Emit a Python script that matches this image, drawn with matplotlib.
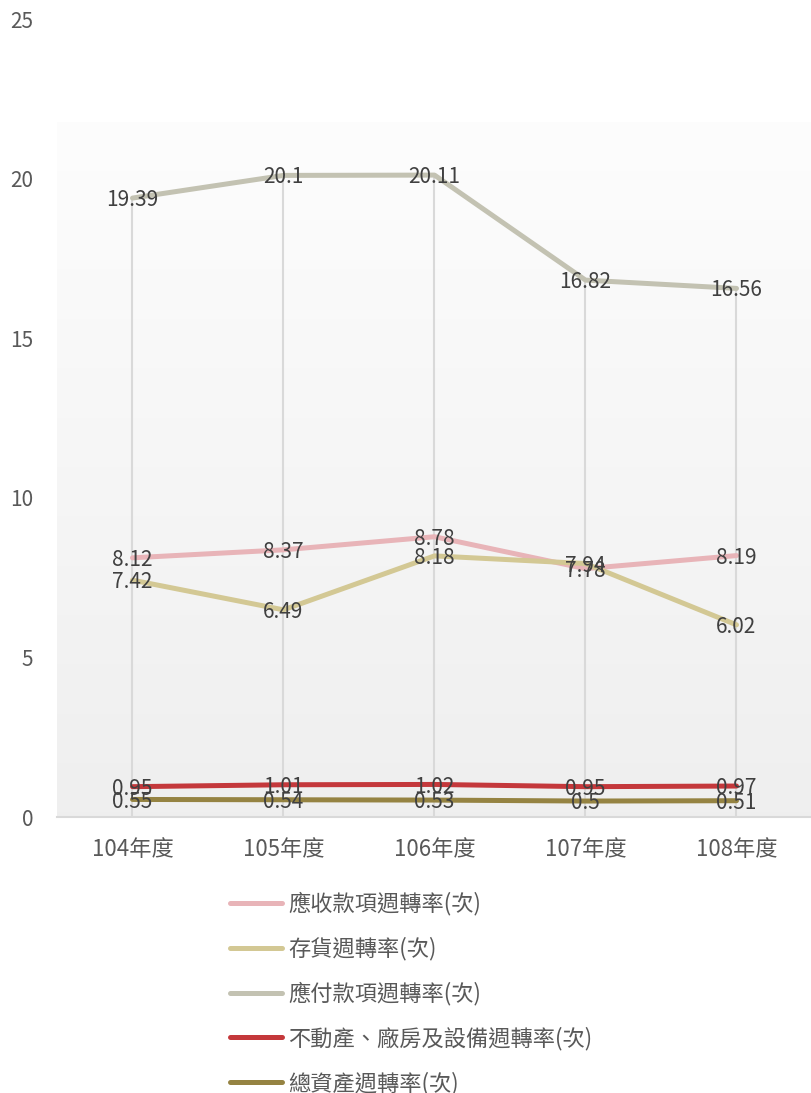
import numpy as np
import matplotlib
matplotlib.use("Agg")
import matplotlib.pyplot as plt

plt.rcParams["font.family"] = ["Noto Sans CJK TC", "DejaVu Sans"]

YEARS = ["104年度", "105年度", "106年度", "107年度", "108年度"]
SERIES_NAMES = [
    "應收款項週轉率(次)",
    "存貨週轉率(次)",
    "應付款項週轉率(次)",
    "不動產、廠房及設備週轉率(次)",
    "總資產週轉率(次)",
]
RECEIVABLE = [8.12, 8.37, 8.78, 7.78, 8.19]
INVENTORY = [7.42, 6.49, 8.18, 7.94, 6.02]
PAYABLE = [19.39, 20.1, 20.11, 16.82, 16.56]
PPE = [0.95, 1.01, 1.02, 0.95, 0.97]
TOTAL_ASSETS = [0.55, 0.54, 0.53, 0.5, 0.51]

COLORS = ["#e8b4b8", "#d3c894", "#c3c2b2", "#c4383b", "#958342"]

all_series = [RECEIVABLE, INVENTORY, PAYABLE, PPE, TOTAL_ASSETS]

fig = plt.figure(figsize=(8.12, 10.93), dpi=100)
fig.patch.set_facecolor("white")
ax = fig.add_axes([57 / 812, (1093 - 817) / 1093, 1 - 57 / 812, (817 - 19) / 1093])
ax.set_facecolor("white")

x = np.arange(len(YEARS))
ax.set_xlim(-0.5, len(YEARS) - 0.5)
ax.set_ylim(0, 25)

# gradient plot-area background (starts below the top tick)
grad = np.linspace(0, 1, 256).reshape(-1, 1)
top_c = np.array([0.992, 0.992, 0.992])
bot_c = np.array([0.937, 0.937, 0.937])
img = top_c * (1 - grad[..., None]) + bot_c * grad[..., None]
img = np.repeat(img, 2, axis=1)
ax.imshow(img, extent=(-0.5, len(YEARS) - 0.5, 0, 21.77), aspect="auto",
          zorder=0, interpolation="bilinear")

# drop lines from highest point to the axis
tops = np.max(np.array(all_series), axis=0)
ax.vlines(x, 0, tops, color="#d9d9d9", lw=1.5, zorder=1)

handles = []
for vals, name, col in zip(all_series, SERIES_NAMES, COLORS):
    (ln,) = ax.plot(x, vals, color=col, lw=3.6, solid_capstyle="round", zorder=3, label=name)
    handles.append(ln)

# data labels, centred on each point
for vals in all_series:
    for xi, v in zip(x, vals):
        ax.annotate(f"{v:g}", (xi, v), xytext=(0, -1.5), textcoords="offset points",
                    ha="center", va="center", fontsize=15, color="#404040", zorder=5)

for s in ["top", "right", "left"]:
    ax.spines[s].set_visible(False)
ax.spines["bottom"].set_color("#d9d9d9")
ax.spines["bottom"].set_linewidth(1.5)

ax.set_yticks([0, 5, 10, 15, 20, 25])
ax.set_xticks(x)
ax.set_xticklabels(YEARS)
ax.tick_params(axis="y", length=0, pad=17, labelsize=15, labelcolor="#595959")
ax.tick_params(axis="x", length=0, pad=15, labelsize=16, labelcolor="#595959")

fig.legend(handles, SERIES_NAMES, loc="upper left", bbox_to_anchor=(210 / 812, 1 - 872 / 1093),
           frameon=False, fontsize=16, handlelength=2.35, handletextpad=0.27,
           labelspacing=0.95, labelcolor="#595959")

fig.savefig("out.png", dpi=100, facecolor="white")
